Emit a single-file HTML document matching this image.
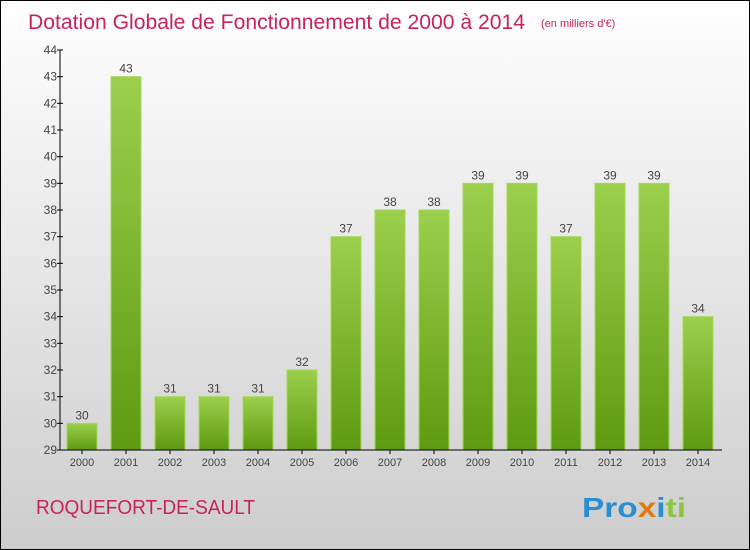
<!DOCTYPE html>
<html><head><meta charset="utf-8"><style>
body{margin:0}
svg{display:block;font-family:"Liberation Sans",sans-serif}
</style></head><body>
<svg id="c" width="750" height="550" xmlns="http://www.w3.org/2000/svg">
<defs>
<linearGradient id="bg" x1="0" y1="0" x2="0" y2="1"><stop offset="0" stop-color="#ffffff"/><stop offset="1" stop-color="#cdcdcd"/></linearGradient>
<linearGradient id="bar" x1="0" y1="0" x2="0" y2="1"><stop offset="0" stop-color="#9ccf4c"/><stop offset="1" stop-color="#5e9a12"/></linearGradient>
</defs>
<rect x="0.5" y="0.5" width="749" height="549" fill="url(#bg)" stroke="#000"/>
<text x="28" y="29" font-size="21" fill="#c8235a" textLength="497" lengthAdjust="spacingAndGlyphs">Dotation Globale de Fonctionnement de 2000 à 2014</text>
<text x="541" y="27" font-size="11" fill="#c8235a">(en milliers d'€)</text>
<text x="36" y="514" font-size="20" fill="#c8235a" textLength="219" lengthAdjust="spacingAndGlyphs">ROQUEFORT-DE-SAULT</text>
<text x="582" y="517" font-size="28" font-weight="bold" textLength="104" lengthAdjust="spacingAndGlyphs"><tspan fill="#2a8fd0">Pro</tspan><tspan fill="#e07a10">x</tspan><tspan fill="#2a8fd0">i</tspan><tspan fill="#8cc63f">ti</tspan></text>
<g id="plot"></g>
</svg>
<script>
const categories=["2000","2001","2002","2003","2004","2005","2006","2007","2008","2009","2010","2011","2012","2013","2014"];
const values=[30,43,31,31,31,32,37,38,38,39,39,37,39,39,34];
const yTicks=[29,30,31,32,33,34,35,36,37,38,39,40,41,42,43,44];
const NS="http://www.w3.org/2000/svg";
const g=document.getElementById('plot');
const yMin=29,yMax=44,y0=450,y1=50,axX=60;
const y=v=>y0-(v-yMin)/(yMax-yMin)*(y0-y1);
const xc=i=>82+i*44;
function el(t,a){const e=document.createElementNS(NS,t);for(const k in a)e.setAttribute(k,a[k]);g.appendChild(e);return e;}
values.forEach((v,i)=>{
 const r=el('rect',{x:xc(i)-15,y:y(v),width:30,height:y0-y(v),fill:'url(#bar)',stroke:'#a6d85a','stroke-width':1});
 
 
 const t=el('text',{x:xc(i),y:y(v)-4,'text-anchor':'middle','font-size':12,fill:'#444'});
 t.textContent=v;
 
 
 const xl=el('text',{x:xc(i),y:466,'text-anchor':'middle','font-size':11,fill:'#444'});
 xl.textContent=categories[i];
 
 
 const tk=el('line',{x1:xc(i),x2:xc(i),y1:y0,y2:y0+4,stroke:'#000'});
 
 
});
yTicks.forEach(v=>{
 const l=el('line',{x1:axX-3,x2:axX+3,y1:y(v),y2:y(v),stroke:'#000'});
 
 
 const t=el('text',{x:axX-3,y:y(v)+4,'text-anchor':'end','font-size':12,fill:'#444'});
 t.textContent=v;
 
 
});
const ya=el('line',{x1:axX,x2:axX,y1:y1,y2:y0,stroke:'#000'});


const xa=el('line',{x1:axX,x2:722,y1:y0,y2:y0,stroke:'#000'});


</script>
</body></html>
